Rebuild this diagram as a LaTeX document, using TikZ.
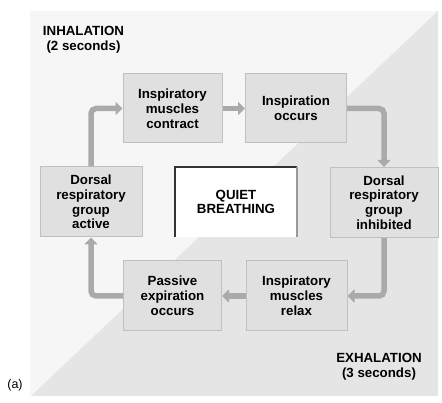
\documentclass[tikz,border=0pt]{standalone}
\usepackage{fontspec}
\setmainfont{Liberation Sans}
\usetikzlibrary{arrows.meta}
\definecolor{panellight}{HTML}{F6F6F6}
\definecolor{paneldark}{HTML}{E5E5E5}
\definecolor{boxfill}{HTML}{E0E0E0}
\definecolor{boxline}{HTML}{C0C0C0}
\definecolor{flowgray}{HTML}{AAAAAA}
\tikzset{
	stagebox/.style={draw=boxline, fill=boxfill, line width=1pt, minimum height=69pt, align=center, inner sep=2pt, font=\bfseries\fontsize{13.3}{14.8}\selectfont},
	flow/.style={draw=flowgray, line width=5.5pt, rounded corners=5pt, -{Triangle[width=13pt,length=7pt]}},
	phase/.style={align=center, font=\bfseries\fontsize{13.3}{14.8}\selectfont}
}

\begin{document}
\begin{tikzpicture}[x=1pt, y=-1pt]
			%%%%% START %%%%%
			\useasboundingbox (0, 0) rectangle (442, 403);
			
			% background, split on the diagonal
			\fill[panellight] (30, 11) rectangle (438, 396);
			\fill[paneldark] (31, 396) -- (438, 11) -- (438, 396) -- cycle;
			
			\node[phase] (inhale) at (83.5, 40) {INHALATION\\(2 seconds)};
			\node[phase] (exhale) at (379, 367) {EXHALATION\\(3 seconds)};
			\node[font=\fontsize{12.5}{14}\selectfont] (panel) at (15, 385) {(a)};
			
			% centre box
			\fill[white] (175, 167) rectangle (297, 237);
			\draw[line width=1.2pt, color=black!80] (175, 237) -- (175, 167) -- (297, 167);
			\draw[line width=1.2pt, color=black!40] (297, 167) -- (297, 237);
			\node[phase] (quiet) at (236, 202) {QUIET\\BREATHING};
			
			% the cycle
			\node[stagebox, minimum width=99pt] (contract) at (172.5, 108.5) {Inspiratory\\muscles\\contract};
			\node[stagebox, minimum width=101pt] (inspire) at (296, 108.5) {Inspiration\\occurs};
			\node[stagebox, minimum width=108pt, minimum height=70pt] (inhib) at (384, 202.5) {Dorsal\\respiratory\\group\\inhibited};
			\node[stagebox, minimum width=101pt, minimum height=70pt] (relax) at (296.5, 296) {Inspiratory\\muscles\\relax};
			\node[stagebox, minimum width=98pt, minimum height=70pt] (passive) at (172.5, 296) {Passive\\expiration\\occurs};
			\node[stagebox, minimum width=102pt, minimum height=70pt] (active) at (91, 202) {Dorsal\\respiratory\\group\\active};
			
			\draw[flow] (active.north) |- (contract.west);
			\draw[flow] (contract.east) -- (inspire.west);
			\draw[flow] (inspire.east) -| (inhib.north);
			\draw[flow] (inhib.south) |- (relax.east);
			\draw[flow] (relax.west) -- (passive.east);
			\draw[flow] (passive.west) -| (active.south);
			
			%%%%% END %%%%%
		\end{tikzpicture}
\end{document}
